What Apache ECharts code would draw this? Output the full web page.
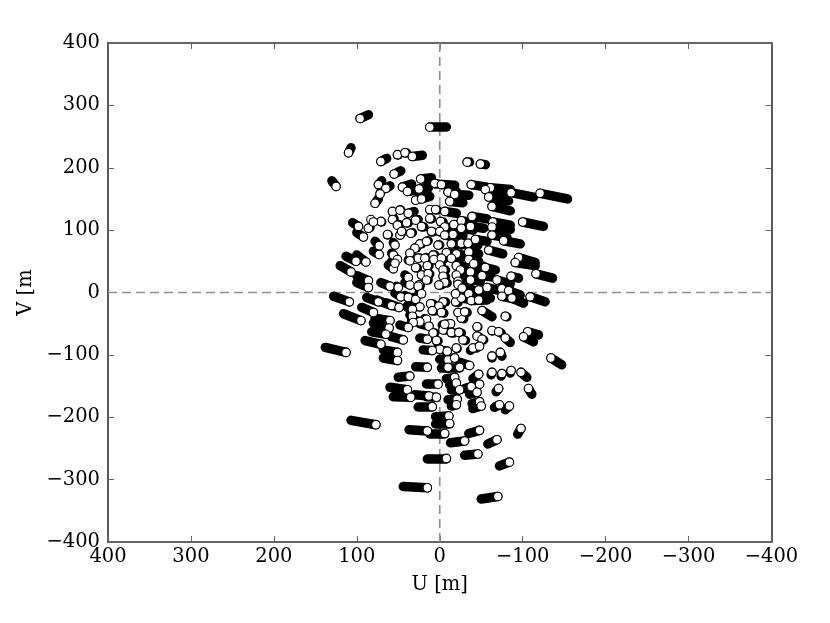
<!DOCTYPE html>
<html><head><meta charset="utf-8">
<style>html,body{margin:0;padding:0;background:#fff}#c{width:830px;height:623px}</style>
<script src="https://cdn.jsdelivr.net/npm/echarts@6/dist/echarts.min.js"></script>
</head><body><div id="c"></div>
<script>
// each track: [end U, end V, tail U, tail V] in metres
var tracksNorth = [
[96,279,86,285],[12,265,-8,265],[110,224,107,232],[71,210,64,215],[51,221,50,221],[42,224,40,224],[33,218,21,220],[-33,209,-36,209],[-49,206,-55,205],[125,170,130,179],
[55,190,47,195],[74,173,70,179],[65,167,60,171],[72,158,70,164],[78,143,74,150],[45,169,34,174],[39,162,14,167],[25,166,14,169],[23,182,10,184],[6,175,2,175],
[-2,173,-18,172],[-10,161,-20,162],[-18,157,-35,156],[-12,146,-28,144],[29,148,24,151],[22,150,12,154],[-38,173,-57,169],[-61,168,-85,165],[-55,165,-81,159],[-59,153,-83,147],
[-86,160,-113,153],[-121,159,-154,150],[-63,138,-85,131],[57,130,56,130],[48,132,47,132],[38,127,31,130],[12,133,10,133],[5,133,3,133],[-6,130,-20,127],[83,117,83,117],
[71,114,70,114],[57,117,55,118],[29,116,26,117],[12,119,10,119],[-1,114,-4,114],[-39,122,-57,118],[-64,113,-85,108],[98,106,105,112],[86,103,84,104],[80,113,80,113],
[51,108,49,109],[40,112,38,112],[22,106,19,106],[-17,109,-29,107],[-26,115,-40,112],[-26,103,-40,100],[-6,105,-16,103],[-37,106,-53,103],[-63,105,-85,101],[-100,113,-125,106],
[63,93,62,93],[48,92,47,93],[46,98,45,98],[35,95,33,96],[10,98,8,98],[0,98,-2,98],[-16,93,-28,91],[-6,92,-14,90],[-63,92,-81,88],[92,89,100,96],
[73,75,78,82],[54,76,56,80],[24,78,22,78],[16,82,14,83],[2,76,0,76],[-14,78,-26,76],[-26,79,-38,76],[-34,79,-46,76],[-43,85,-57,82],[-77,83,-97,78],
[73,61,80,66],[30,71,28,71],[36,63,34,64],[26,55,24,55],[18,55,16,56],[8,60,6,60],[-8,64,-16,62],[-20,62,-32,59],[-35,65,-47,62],[-59,68,-76,62],
[-95,56,-115,48],[101,50,113,58],[89,49,100,60],[56,60,58,63],[51,53,53,55],[36,51,38,52],[7,53,5,53],[-2,55,-5,54],[-14,55,-24,53],[-35,53,-47,50],
[-41,46,-53,42],[-91,48,-115,43],[107,33,120,43],[56,38,62,44],[54,47,58,50],[29,40,27,40],[15,43,13,43],[0,44,-2,44],[-20,43,-30,41],[-25,36,-37,33],
[-37,33,-50,31],[-51,27,-62,25],[-55,40,-67,36],[-116,30,-136,23],[-86,26,-95,23],[38,24,42,28],[22,28,20,28],[14,30,12,30],[-4,36,-7,36],[-4,26,-7,25],
[-20,28,-32,25],[-37,20,-49,19],[-22,18,-30,16],[-6,16,-9,16],[1,12,-2,12],[-69,20,-85,14],[86,19,100,27],[36,12,42,16],[25,12,23,13],[16,20,14,20],
[86,8,100,16],[60,10,71,16],[50,8,52,10],[26,10,24,10],[-57,8,-69,4],[-22,13,-34,11],[-27,7,-40,4],[-75,6,-85,3],[-83,3,-97,-4],[-47,4,-61,4]
];
var tracksSouth = [
[109,-15,128,-6],[74,-15,88,-8],[58,-21,76,-12],[49,-24,64,-17],[47,-7,54,-1],[38,-8,42,-5],[29,-11,32,-8],[24,-23,38,-20],[22,-2,25,-1],[11,-18,8,-18],
[-4,-15,-7,-15],[1,-22,-2,-22],[-19,-15,-22,-16],[-26,-9,-36,-11],[-19,-2,-30,-4],[-35,-2,-47,-4],[-38,-13,-57,-12],[-47,-12,-61,-9],[-75,-6,-95,-12],[-87,-9,-101,-17],
[-109,-7,-127,-15],[95,-45,116,-34],[80,-32,94,-24],[33,-27,40,-23],[9,-29,6,-29],[-2,-32,-5,-33],[33,-38,36,-36],[60,-45,78,-41],[16,-43,18,-42],[24,-47,28,-45],
[-26,-41,-29,-42],[-22,-32,-25,-33],[-30,-31,-33,-32],[-51,-29,-63,-39],[-79,-38,-81,-39],[32,-48,34,-46],[61,-57,80,-49],[38,-56,48,-52],[13,-54,24,-50],[-4,-60,-7,-60],
[-13,-50,-8,-50],[-6,-51,-3,-51],[-45,-55,-46,-55],[8,-65,6,-65],[-14,-64,-17,-64],[-23,-64,-26,-65],[-63,-61,-64,-61],[-71,-63,-74,-65],[-79,-73,-85,-80],[-106,-63,-119,-68],
[-101,-71,-113,-79],[65,-67,82,-63],[-45,-70,-47,-71],[-51,-75,-53,-76],[44,-76,58,-71],[15,-75,24,-73],[4,-77,2,-77],[-28,-76,-31,-77],[71,-83,90,-77],[113,-96,138,-88],
[0,-91,3,-90],[-9,-94,-6,-93],[-20,-89,-21,-90],[51,-96,68,-92],[9,-93,20,-92],[-40,-89,-37,-93],[-48,-86,-44,-89],[51,-109,68,-105],[-10,-108,0,-107],[-18,-105,-8,-105],
[-10,-120,-2,-120],[-24,-120,-8,-120],[-36,-117,-24,-112],[15,-120,29,-119],[-63,-102,-63,-105],[-73,-96,-75,-102],[-134,-105,-147,-116],[36,-134,50,-136],[-18,-136,-8,-138],[-47,-131,-40,-138],
[-63,-128,-62,-132],[-75,-130,-74,-134],[-86,-125,-85,-129],[-98,-128,-105,-136],[2,-147,16,-147],[-20,-145,-12,-148],[-48,-147,-40,-151],[-38,-151,-30,-154],[-24,-156,-14,-156],[-45,-160,-36,-163],
[-71,-154,-68,-159],[-107,-154,-111,-163],[39,-156,60,-152],[35,-168,56,-167],[13,-166,30,-164],[4,-168,16,-167],[-21,-171,-10,-172],[-48,-175,-39,-178],[-50,-182,-40,-186],[-20,-180,-14,-182],
[9,-183,26,-183],[-72,-180,-66,-184],[-84,-182,-79,-188],[-11,-198,5,-199],[-12,-210,5,-210],[77,-212,107,-205],[15,-222,37,-220],[-6,-226,12,-226],[-48,-221,-35,-226],[-98,-218,-94,-227],
[-69,-236,-58,-243],[-30,-238,-13,-241],[-46,-259,-30,-261],[-8,-266,15,-266],[-84,-272,-72,-278],[15,-313,44,-311],[-70,-327,-50,-331]
];
var axisMin = -400, axisMax = 400, axisStep = 100;
var xTitle = 'U [m]', yTitle = 'V [m';

var tracks = tracksNorth.concat(tracksSouth);
var font = {fontFamily:'DejaVu Serif', fontSize:19.5, color:'#000'};
function fmt(v){ return v < 0 ? '\u2212' + (-v) : String(v); }
function axis(pos, name, extra, main){
  var a = {type:'value', position:pos, min:axisMin, max:axisMax, interval:axisStep,
    splitLine:{show:false}, axisLine:{show:true, onZero:false, lineStyle:{color:'#333', width:1.6}},
    axisTick:{show:true, inside:true, length:6, lineStyle:{color:'#666', width:1}},
    axisLabel:main ? Object.assign({show:true, formatter:fmt, margin:extra.margin}, font) : {show:false}};
  if (main) { a.name = name; a.nameLocation='middle'; a.nameGap=extra.gap; a.nameTextStyle=font; }
  if (extra.inverse) a.inverse = true;
  return a;
}
var chart = echarts.init(document.getElementById('c'), null, {renderer:'canvas'});
chart.setOption({
  animation:false,
  backgroundColor:'#fff',
  grid:{left:108, right:58.5, top:43, bottom:81},
  xAxis:[axis('bottom', xTitle, {inverse:true, margin:5, gap:33}, true), axis('top','',{inverse:true},false)],
  yAxis:[axis('left', yTitle, {margin:8, gap:63}, true), axis('right','',{},false)],
  series:[
    {type:'line', silent:true, symbol:'none', z:1, data:[[axisMax,0],[axisMin,0]],
      lineStyle:{color:'#909090', width:1.7, type:[9,5]}},
    {type:'line', silent:true, symbol:'none', z:1, data:[[0,axisMax],[0,axisMin]],
      lineStyle:{color:'#909090', width:1.7, type:[9,5]}},
    {type:'lines', coordinateSystem:'cartesian2d', silent:true, z:3,
      data:tracks.map(function(t){return {coords:[[t[2],t[3]],[t[0],t[1]]]};}),
      lineStyle:{color:'#000', width:9.5, opacity:1, cap:'round', curveness:0}},
    {type:'scatter', silent:true, z:4, symbol:'circle', symbolSize:8.5,
      data:tracks.map(function(t){return [t[0],t[1]];}),
      itemStyle:{color:'#fff', borderColor:'#000', borderWidth:1.1, opacity:1}}
  ]
});
</script></body></html>
